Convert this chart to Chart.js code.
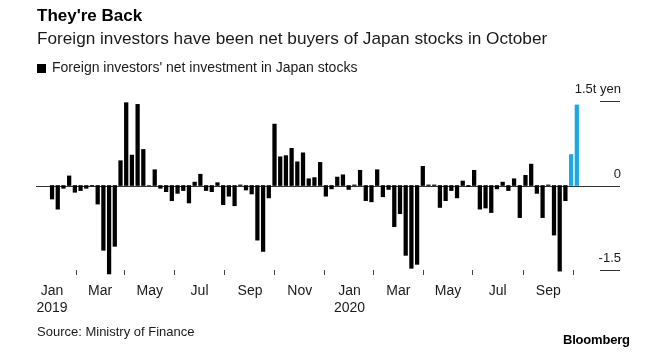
<!DOCTYPE html>
<html>
<head>
<meta charset="utf-8">
<script src="https://cdn.jsdelivr.net/npm/chart.js@4.4.1/dist/chart.umd.min.js"></script>
<style>
  html, body { margin: 0; padding: 0; background: #fff; }
  body { width: 658px; height: 357px; position: relative; overflow: hidden; font-family: "Liberation Sans", Arial, sans-serif; color: #111; }
  #wrap { position: absolute; left: 0; top: 0; width: 658px; height: 357px; }
  .t { position: absolute; white-space: nowrap; }
  #title { left: 37px; top: 6px; font-size: 17px; font-weight: bold; color: #000; }
  #subtitle { left: 37px; top: 28px; font-size: 17.2px; color: #1a1a1a; }
  #legend { left: 37px; top: 59px; font-size: 14px; color: #1a1a1a; }
  #legend .sw { display: inline-block; width: 9px; height: 9px; background: #000; margin-right: 6px; vertical-align: -1px; }
  #source { left: 37px; top: 324px; font-size: 13px; color: #1a1a1a; }
  #brand { left: 563px; top: 332px; font-size: 13px; font-weight: bold; color: #000; letter-spacing: -0.2px; }
</style>
</head>
<body>
<div id="wrap"><canvas id="c" width="658" height="357"></canvas></div>
<div class="t" id="title">They're Back</div>
<div class="t" id="subtitle">Foreign investors have been net buyers of Japan stocks in October</div>
<div class="t" id="legend"><span class="sw"></span>Foreign investors' net investment in Japan stocks</div>
<div class="t" id="source">Source: Ministry of Finance</div>
<div class="t" id="brand">Bloomberg</div>
<script>
// Weekly net investment (trillion yen), first week of Jan 2019 onward
const startDate = "2019-01-01";
const netInvestment = [
  -0.24, -0.42, -0.05, 0.17, -0.12, -0.09, -0.05, -0.01, -0.33, -1.15,
  -1.57, -1.08, 0.44, 1.47, 0.54, 1.44, 0.64, 0.00, 0.28, -0.05,
  -0.11, -0.27, -0.14, -0.09, -0.31, 0.06, 0.20, -0.09, -0.11, 0.05,
  -0.34, -0.19, -0.36, 0.01, -0.08, -0.15, -0.97, -1.17, -0.22, 1.09,
  0.51, 0.53, 0.66, 0.42, 0.58, 0.12, 0.14, 0.41, -0.19, -0.06,
  0.15, 0.19, -0.07, 0.01, 0.27, -0.27, -0.29, 0.28, -0.20, -0.07,
  -0.73, -0.50, -1.24, -1.47, -1.40, 0.34, 0.01, 0.01, -0.39, -0.27,
  -0.09, -0.22, 0.08, -0.02, 0.27, -0.42, -0.40, -0.48, -0.06, 0.06,
  -0.09, 0.12, -0.57, 0.18, 0.38, -0.14, -0.57, 0.01, -0.88, -1.52,
  -0.27, 0.55, 1.43
];
const highlightCount = 2; // October 2020 weeks
const xTickDates = ["2019-01-01","2019-03-01","2019-05-01","2019-07-01","2019-09-01","2019-11-01",
                    "2020-01-01","2020-03-01","2020-05-01","2020-07-01","2020-09-01"];
const xTickLabels = [["Jan","2019"],"Mar","May","Jul","Sep","Nov",["Jan","2020"],"Mar","May","Jul","Sep"];
const yTickValues = [1.5, 0, -1.5];
const yTickLabels = ["1.5t yen", "0", "-1.5"];

const DAY = 86400000;
const t0 = Date.parse(startDate + "T00:00:00Z");
const dayOf = s => Math.round((Date.parse(s + "T00:00:00Z") - t0) / DAY);
const points = netInvestment.map((v, i) => ({ x: i * 7, y: v }));
const colors = netInvestment.map((v, i) => i >= netInvestment.length - highlightCount ? '#1fa8e6' : '#000000');
const tickDays = xTickDates.map(dayOf);

const yAxisPlugin = {
  id: 'yAxisRight',
  beforeDatasetsDraw(chart) {
    const ctx = chart.ctx, ca = chart.chartArea, y = chart.scales.y;
    ctx.save();
    ctx.strokeStyle = '#333';
    ctx.lineWidth = 1;
    const y0 = Math.round(y.getPixelForValue(0)) + 0.5;
    ctx.beginPath(); ctx.moveTo(ca.left, y0); ctx.lineTo(ca.right, y0); ctx.stroke();
    ctx.restore();
  },
  afterDraw(chart) {
    const ctx = chart.ctx, ca = chart.chartArea, y = chart.scales.y;
    ctx.save();
    ctx.strokeStyle = '#333';
    ctx.lineWidth = 1;
    ctx.fillStyle = '#1a1a1a';
    ctx.font = '13px "Liberation Sans", Arial, sans-serif';
    ctx.textAlign = 'right';
    ctx.textBaseline = 'middle';
    yTickValues.forEach((v, i) => {
      const py = Math.round(y.getPixelForValue(v)) + 0.5;
      if (v !== 0) {
        ctx.beginPath(); ctx.moveTo(ca.right - 20, py); ctx.lineTo(ca.right, py); ctx.stroke();
      }
      ctx.fillText(yTickLabels[i], ca.right + 1, py - 12.5);
    });
    ctx.restore();
  }
};

new Chart(document.getElementById('c'), {
  type: 'bar',
  data: {
    datasets: [{
      data: points,
      backgroundColor: colors,
      borderWidth: 0,
      barThickness: 3.6,
      clip: false
    }]
  },
  options: {
    responsive: false,
    animation: false,
    devicePixelRatio: 1,
    layout: { padding: { left: 36, right: 38, top: 101, bottom: 37 } },
    plugins: { legend: { display: false }, tooltip: { enabled: false }, title: { display: false } },
    scales: {
      x: {
        type: 'linear',
        offset: false,
        min: -19.7,
        max: 697,
        afterBuildTicks: s => { s.ticks = tickDays.map(v => ({ value: v })); },
        afterFit: s => { s.height = 50; },
        grid: { display: true, drawOnChartArea: false, drawTicks: true, tickLength: 5, color: '#444', lineWidth: 1 },
        border: { display: false },
        ticks: {
          autoSkip: false, maxRotation: 0, minRotation: 0, padding: 8,
          color: '#1a1a1a',
          font: { family: '"Liberation Sans", Arial, sans-serif', size: 14, lineHeight: 1.2 },
          callback: (value) => { const i = tickDays.indexOf(value); return i >= 0 ? xTickLabels[i] : ''; }
        }
      },
      y: {
        display: false,
        min: -1.5,
        max: 1.5
      }
    }
  },
  plugins: [yAxisPlugin]
});
</script>
</body>
</html>
